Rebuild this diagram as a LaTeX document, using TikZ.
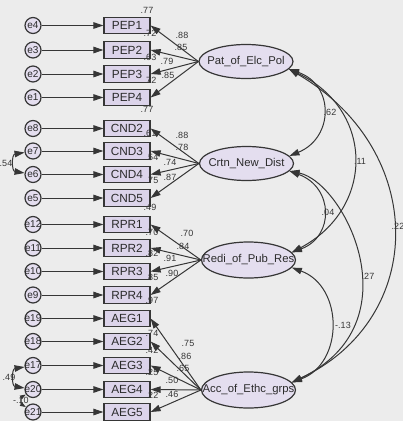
\documentclass[tikz,border=0pt]{standalone}
\usepackage{fontspec}
\setmainfont{Liberation Sans}
\usetikzlibrary{arrows.meta,shapes.geometric}
\definecolor{bg}{HTML}{ECECEC}
\definecolor{lav}{HTML}{DCD4EA}
\definecolor{lavl}{HTML}{E4DEEF}
\definecolor{ink}{HTML}{363636}
\tikzset{
 x=1pt, y=-1pt,
 >={Triangle[length=10pt,width=6.5pt]},
 obs/.style={draw=ink, line width=1.2pt, fill=lav, minimum width=46pt, minimum height=16.5pt, inner sep=0pt, font=\fontsize{11.8}{12}\selectfont, text=ink!80!black},
 err/.style={circle, draw=ink, line width=1.2pt, fill=lavl, minimum size=16pt, inner sep=0pt},
 errtxt/.style={font=\fontsize{10}{10}\selectfont, text=ink!80!black, inner sep=0pt},
 lat/.style={ellipse, draw=ink, line width=1.2pt, fill=lavl, minimum width=94pt, minimum height=34pt, inner sep=0pt},
 lattxt/.style={font=\fontsize{11.3}{12}\selectfont, text=ink!80!black, inner sep=0pt},
 reg/.style={draw=ink, line width=1pt, ->},
 cov/.style={draw=ink, line width=1pt, <->},
 smallcov/.style={draw=ink, line width=1pt, {Triangle[length=6pt,width=4pt]}-{Triangle[length=6pt,width=4pt]}},
 lbl/.style={font=\fontsize{9}{9}\selectfont, text=ink, inner sep=0pt},
}
\begin{document}
\begin{tikzpicture}
\fill[bg] (0,0) rectangle (403,421);
\useasboundingbox (0,0) rectangle (403,421);

% observed boxes and error terms
\foreach \n/\t/\e/\y in {pep1/PEP1/e4/25.5, pep2/PEP2/e3/50, pep3/PEP3/e2/74, pep4/PEP4/e1/97.5,
  cnd2/CND2/e8/128.5, cnd3/CND3/e7/151, cnd4/CND4/e6/174.5, cnd5/CND5/e5/198,
  rpr1/RPR1/e12/224.5, rpr2/RPR2/e11/248, rpr3/RPR3/e10/271.5, rpr4/RPR4/e9/295,
  aeg1/AEG1/e19/318.5, aeg2/AEG2/e18/341.5, aeg3/AEG3/e17/365.5, aeg4/AEG4/e20/389.5, aeg5/AEG5/e21/412}{
  \node[obs] (\n) at (127,\y) {\t};
  \node[err, label={[errtxt]center:\e}] (\e) at (33,\y) {};
  \draw[reg] (\e) -- (\n);
}

% latent variables
\node[lat, label={[lattxt]center:Pat\_of\_Elc\_Pol}] (pat) at (246,61.5) {};
\node[lat, label={[lattxt]center:Crtn\_New\_Dist}] (crtn) at (246.5,163.5) {};
\node[lat, minimum height=36pt, label={[lattxt]center:Redi\_of\_Pub\_Res}] (redi) at (248.5,260) {};
\node[lat, minimum height=36pt, label={[lattxt]center:Acc\_of\_Ethc\_grps}] (acc) at (248.5,390) {};

% loadings
\foreach \b in {pep1,pep2,pep3,pep4} \draw[reg] (pat.west) -- (\b.east);
\foreach \b in {cnd2,cnd3,cnd4,cnd5} \draw[reg] (crtn.west) -- (\b.east);
\foreach \b in {rpr1,rpr2,rpr3,rpr4} \draw[reg] (redi.west) -- (\b.east);
\foreach \b in {aeg1,aeg2,aeg3,aeg4,aeg5} \draw[reg] (acc.west) -- (\b.east);

% latent covariances
\draw[cov] (pat.-10) .. controls +(46,16) and +(44,-18) .. (crtn.10);
\draw[cov] (pat.-10) .. controls +(86,41) and +(83,-44) .. (redi.10);
\draw[cov] (pat.-10) .. controls +(139,81) and +(136,-64) .. (acc.10);
\draw[cov] (crtn.-10) .. controls +(44,16) and +(43,-16) .. (redi.10);
\draw[cov] (crtn.-10) .. controls +(55,11) and +(124,-59) .. (acc.10);
\draw[cov] (redi.-10) .. controls +(52,19) and +(52,-19) .. (acc.10);

% error covariances
\draw[cov] (e7.190) .. controls +(-13,2) and +(-13,-2) .. (e6.170);
\draw[cov] (e17.190) .. controls +(-13,2) and +(-13,-2) .. (e20.170);
\draw[smallcov] (e20.215) .. controls +(-5,3) and +(-5,-3) .. (e21.145);

% numeric labels
\foreach \t/\x/\y [count=\i] in {
  .77/147/10, .72/150/33, .63/150/57, .72/150/80, .77/147/109,
  .88/182/35, .85/181/47, .79/167/61, .85/168/75,
  .61/150/133, .54/152/157, .75/152/180, .49/150/207,
  .88/182/135, .78/182/147, .74/170/162, .87/170/177,
  .70/152/232, .82/152/253, .85/152/277, .97/152/300,
  .70/187/233, .84/183/246, .91/170/258, .90/172/273,
  .74/152/333, .42/152/350, .25/152/372, .22/152/395,
  .75/188/343, .86/185/356, .65/183/368, .50/172/380, .46/172/394,
  .62/330/112, .11/360/161, .22/398/226, .04/328/212, .27/368/276, -.13/343/325,
  .54/6/163, .49/9/377, -.10/21/400}{
  \node[lbl] (lab\i) at (\x,\y) {\t};
}
\end{tikzpicture}
\end{document}
